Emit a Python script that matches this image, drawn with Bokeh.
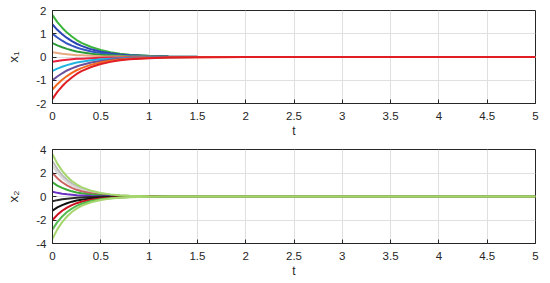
from bokeh.plotting import figure
from bokeh.layouts import column
from bokeh.models import FixedTicker, Range1d
from bokeh.embed import file_html
from bokeh.resources import INLINE

# time samples (s)
t = [0, 0.05, 0.1, 0.15, 0.2, 0.25, 0.3, 0.4, 0.5, 0.6, 0.7, 0.8, 1.0, 1.2, 1.5, 2.0, 5.0]

# x1 trajectories
x1_a = [1.80, 1.50, 1.26, 1.05, 0.88, 0.73, 0.61, 0.43, 0.30, 0.21, 0.14, 0.10, 0.05, 0.02, 0.01, 0, 0]
x1_b = [1.40, 1.17, 0.98, 0.82, 0.68, 0.57, 0.48, 0.33, 0.23, 0.16, 0.11, 0.08, 0.04, 0.02, 0.01, 0, 0]
x1_c = [1.00, 0.84, 0.70, 0.58, 0.49, 0.41, 0.34, 0.24, 0.17, 0.12, 0.08, 0.06, 0.03, 0.01, 0, 0, 0]
x1_d = [0.60, 0.50, 0.42, 0.35, 0.29, 0.24, 0.20, 0.14, 0.10, 0.07, 0.05, 0.03, 0.02, 0.01, 0, 0, 0]
x1_e = [0.20, 0.17, 0.14, 0.12, 0.10, 0.08, 0.07, 0.05, 0.03, 0.02, 0.02, 0.01, 0.01, 0, 0, 0, 0]
x1_f = [-0.20, -0.17, -0.14, -0.12, -0.10, -0.08, -0.07, -0.05, -0.03, -0.02, -0.02, -0.01, -0.01, 0, 0, 0, 0]
x1_g = [-0.60, -0.50, -0.42, -0.35, -0.29, -0.24, -0.20, -0.14, -0.10, -0.07, -0.05, -0.03, -0.02, -0.01, 0, 0, 0]
x1_h = [-1.00, -0.84, -0.70, -0.58, -0.49, -0.41, -0.34, -0.24, -0.17, -0.12, -0.08, -0.06, -0.03, -0.01, 0, 0, 0]
x1_i = [-1.40, -1.17, -0.98, -0.82, -0.68, -0.57, -0.48, -0.33, -0.23, -0.16, -0.11, -0.08, -0.04, -0.02, -0.01, 0, 0]
x1_j = [-1.80, -1.50, -1.26, -1.05, -0.88, -0.73, -0.61, -0.43, -0.30, -0.21, -0.14, -0.10, -0.05, -0.02, -0.01, 0, 0]

# x2 trajectories
x2_a = [3.60, 2.80, 2.18, 1.70, 1.32, 1.03, 0.80, 0.49, 0.30, 0.18, 0.11, 0.06, 0.02, 0.01, 0, 0, 0]
x2_b = [3.00, 2.34, 1.82, 1.42, 1.10, 0.86, 0.67, 0.41, 0.25, 0.15, 0.09, 0.05, 0.02, 0.01, 0, 0, 0]
x2_c = [2.60, 2.03, 1.58, 1.23, 0.96, 0.75, 0.58, 0.35, 0.21, 0.13, 0.08, 0.05, 0.02, 0.01, 0, 0, 0]
x2_d = [2.00, 1.56, 1.21, 0.94, 0.74, 0.57, 0.45, 0.27, 0.16, 0.10, 0.06, 0.04, 0.01, 0, 0, 0, 0]
x2_e = [1.20, 0.93, 0.73, 0.57, 0.44, 0.34, 0.27, 0.16, 0.10, 0.06, 0.04, 0.02, 0.01, 0, 0, 0, 0]
x2_f = [0.40, 0.31, 0.24, 0.19, 0.15, 0.11, 0.09, 0.05, 0.03, 0.02, 0.01, 0.01, 0, 0, 0, 0, 0]
x2_g = [-0.40, -0.31, -0.24, -0.19, -0.15, -0.11, -0.09, -0.05, -0.03, -0.02, -0.01, -0.01, 0, 0, 0, 0, 0]
x2_h = [-1.20, -0.93, -0.73, -0.57, -0.44, -0.34, -0.27, -0.16, -0.10, -0.06, -0.04, -0.02, -0.01, 0, 0, 0, 0]
x2_i = [-2.00, -1.56, -1.21, -0.94, -0.74, -0.57, -0.45, -0.27, -0.16, -0.10, -0.06, -0.04, -0.01, 0, 0, 0, 0]
x2_j = [-2.80, -2.18, -1.70, -1.32, -1.03, -0.80, -0.62, -0.38, -0.23, -0.14, -0.08, -0.05, -0.02, -0.01, 0, 0, 0]
x2_k = [-3.60, -2.80, -2.18, -1.70, -1.32, -1.03, -0.80, -0.49, -0.30, -0.18, -0.11, -0.06, -0.02, -0.01, 0, 0, 0]

x_ticks = [0, 0.5, 1, 1.5, 2, 2.5, 3, 3.5, 4, 4.5, 5]
x_tick_labels = ["0", "0.5", "1", "1.5", "2", "2.5", "3", "3.5", "4", "4.5", "5"]
x1_ticks = [-2, -1, 0, 1, 2]
x1_tick_labels = ["-2", "-1", "0", "1", "2"]
x2_ticks = [-4, -2, 0, 2, 4]
x2_tick_labels = ["-4", "-2", "0", "2", "4"]

x1_series = [x1_a, x1_b, x1_c, x1_d, x1_e, x1_f, x1_g, x1_h, x1_i, x1_j]
x1_colors = ["#3cb43c", "#2b44b4", "#3556c0", "#2a9a38", "#e8a882",
             "#e8203c", "#22b4e0", "#6a4f9c", "#f26a22", "#e01e24"]
x2_series = [x2_b, x2_c, x2_d, x2_e, x2_f, x2_g, x2_h, x2_i, x2_j, x2_a, x2_k]
x2_colors = ["#b8b8b8", "#d6d6d6", "#cc6464", "#3aaa38", "#6a30c4",
             "#2a2a2a", "#111111", "#cc1020", "#55bb50", "#a6d66e", "#a6d66e"]

FONT = "Liberation Sans"
DARK = "#262626"


def style(p, yticks, ylabels):
    p.xaxis.ticker = FixedTicker(ticks=x_ticks)
    p.xaxis.major_label_overrides = {float(k): v for k, v in zip(x_ticks, x_tick_labels)}
    p.yaxis.ticker = FixedTicker(ticks=yticks)
    p.yaxis.major_label_overrides = {float(k): v for k, v in zip(yticks, ylabels)}
    for ax in (p.xaxis, p.yaxis):
        ax.major_label_text_font = FONT
        ax.major_label_text_font_size = "11.5px"
        ax.major_label_text_color = DARK
        ax.axis_label_text_font = FONT
        ax.axis_label_text_font_style = "normal"
        ax.axis_label_text_color = DARK
        ax.axis_line_color = DARK
        ax.major_tick_line_color = DARK
        ax.major_tick_in = 4
        ax.major_tick_out = 0
        ax.minor_tick_line_color = None
    p.xaxis.axis_label_text_font_size = "12px"
    p.yaxis.axis_label_text_font_size = "13.5px"
    p.xaxis.major_label_standoff = 8
    p.xaxis.axis_label_standoff = 1
    p.yaxis.major_label_standoff = 6
    p.yaxis.axis_label_standoff = 12
    p.grid.grid_line_color = "#e0e0e0"
    p.outline_line_color = DARK
    p.outline_line_alpha = 1
    p.background_fill_color = "white"
    p.border_fill_color = "white"


p1 = figure(width=548, height=140, output_backend="svg", toolbar_location=None,
            x_range=Range1d(0, 5), y_range=Range1d(-2, 2),
            min_border_left=52, min_border_right=13, min_border_top=10, min_border_bottom=36)
for ys, c in zip(x1_series, x1_colors):
    p1.line(t, ys, line_color=c, line_width=2)
p1.xaxis.axis_label = "t"
p1.yaxis.axis_label = "x₁"
style(p1, x1_ticks, x1_tick_labels)

p2 = figure(width=548, height=140, output_backend="svg", toolbar_location=None,
            x_range=Range1d(0, 5), y_range=Range1d(-4, 4),
            min_border_left=52, min_border_right=13, min_border_top=9, min_border_bottom=36)
for ys, c in zip(x2_series, x2_colors):
    p2.line(t, ys, line_color=c, line_width=2)
p2.xaxis.axis_label = "t"
p2.yaxis.axis_label = "x₂"
style(p2, x2_ticks, x2_tick_labels)

layout = column(p1, p2, spacing=0)
open("out.html", "w").write(file_html(layout, INLINE))
